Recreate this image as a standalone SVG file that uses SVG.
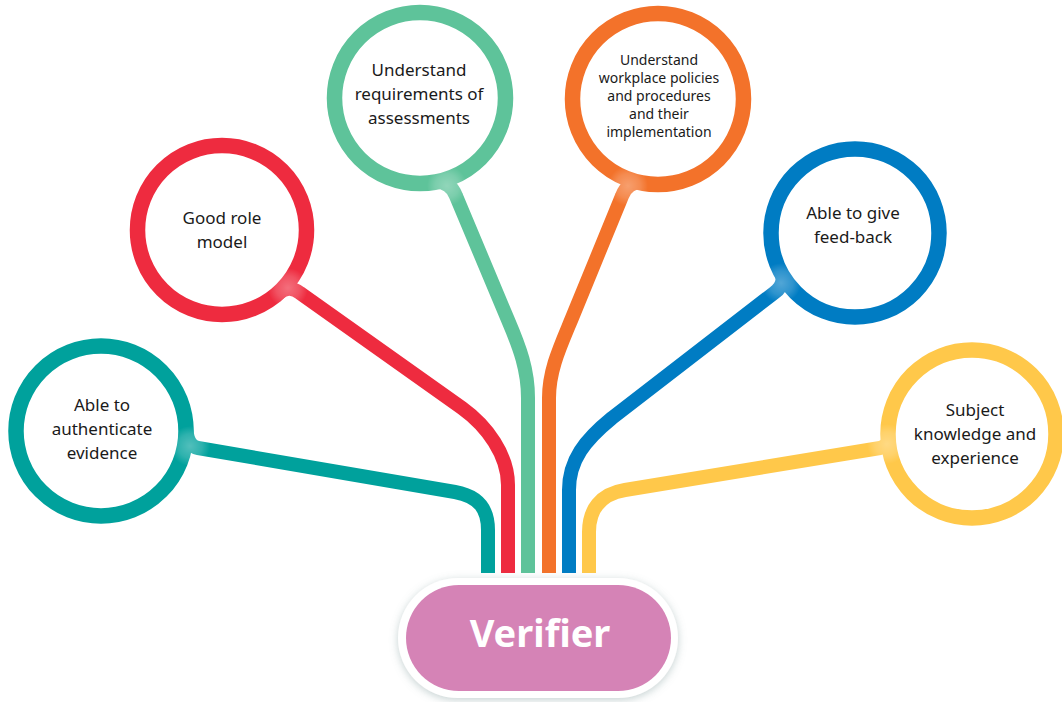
<svg xmlns="http://www.w3.org/2000/svg" width="1062" height="702" viewBox="0 0 1062 702">
<defs>
<style>
.ring{fill:#fff;stroke-width:15.5}
.con{fill:none;stroke-width:14;stroke-linejoin:round;stroke-linecap:butt}
.lbl{font-family:"Noto Sans","Open Sans",sans-serif;font-size:17px;fill:#1a1a1a;text-anchor:middle}
.sm{font-size:14px}
</style>
<radialGradient id="hl">
<stop offset="0" stop-color="#fff" stop-opacity="0.32"/>
<stop offset="0.6" stop-color="#fff" stop-opacity="0.18"/>
<stop offset="1" stop-color="#fff" stop-opacity="0"/>
</radialGradient>
<filter id="sh" x="-20%" y="-30%" width="140%" height="160%">
<feDropShadow dx="0" dy="2" stdDeviation="4" flood-color="#7f9a9a" flood-opacity="0.45"/>
</filter>
</defs>
<rect width="1062" height="702" fill="#fff"/>
<g id="connectors">
<path class="con" stroke="#00A19C" d="M186 422 Q186 446 198 448 L455 492 C480 496.5 488 510 488 530 L488 573"/>
<path class="con" stroke="#EE2B3F" d="M275 297 Q287 283 300 293 L462 408 C487 426 508 455 508 485 L508 573"/>
<path class="con" stroke="#5EC39A" d="M432 182 Q450 180 456 196 L508 320 C520 348 528 370 528 398 L528 573"/>
<path class="con" stroke="#F3722A" d="M646 182 Q628 180 622 196 L572 318 C560 347 549 370 549 398 L549 573"/>
<path class="con" stroke="#007CC3" d="M776 262 Q790 282 774 293 L612 418 C585 440 569 460 569 490 L569 573"/>
<path class="con" stroke="#FFC84A" d="M890 420 Q892 446 880 448 L625 490 C600 494 589 510 589 532 L589 573"/>
</g>
<g id="n1">
<circle class="ring" cx="101" cy="431" r="85" stroke="#00A19C"/>
<text class="lbl" x="102" y="411">Able to</text>
<text class="lbl" x="102" y="435">authenticate</text>
<text class="lbl" x="102" y="459">evidence</text>
</g>
<g id="n2">
<circle class="ring" cx="222" cy="230" r="84.5" stroke="#EE2B3F"/>
<text class="lbl" x="222" y="224">Good role</text>
<text class="lbl" x="222" y="248">model</text>
</g>
<g id="n3">
<circle class="ring" cx="420" cy="98" r="85.5" stroke="#5EC39A"/>
<text class="lbl" x="419" y="76">Understand</text>
<text class="lbl" x="419" y="100">requirements of</text>
<text class="lbl" x="419" y="124">assessments</text>
</g>
<g id="n4">
<circle class="ring" cx="658" cy="99" r="85.5" stroke="#F3722A"/>
<text class="lbl sm" x="659" y="65">Understand</text>
<text class="lbl sm" x="659" y="83">workplace policies</text>
<text class="lbl sm" x="659" y="101">and procedures</text>
<text class="lbl sm" x="659" y="119">and their</text>
<text class="lbl sm" x="659" y="137">implementation</text>
</g>
<g id="n5">
<circle class="ring" cx="855" cy="233" r="84" stroke="#007CC3"/>
<text class="lbl" x="853" y="219">Able to give</text>
<text class="lbl" x="853" y="243">feed-back</text>
</g>
<g id="n6">
<circle class="ring" cx="972" cy="434" r="84" stroke="#FFC84A"/>
<text class="lbl" x="975" y="416">Subject</text>
<text class="lbl" x="975" y="440">knowledge and</text>
<text class="lbl" x="975" y="464">experience</text>
</g>
<g id="highlights">
<circle cx="190" cy="446" r="20" fill="url(#hl)"/>
<circle cx="288" cy="288" r="20" fill="url(#hl)"/>
<circle cx="447" cy="186" r="20" fill="url(#hl)"/>
<circle cx="628" cy="186" r="20" fill="url(#hl)"/>
<circle cx="781" cy="283" r="20" fill="url(#hl)"/>
<circle cx="887" cy="444" r="20" fill="url(#hl)"/>
</g>
<g id="verifier">
<rect x="398" y="578" width="280" height="120" rx="60" fill="#fff" filter="url(#sh)"/>
<rect x="406" y="585" width="265" height="106" rx="53" fill="#D583B6"/>
<text x="540" y="647" font-family="'Noto Sans','Open Sans',sans-serif" font-size="38" font-weight="bold" fill="#fff" text-anchor="middle">Verifier</text>
</g>
</svg>
